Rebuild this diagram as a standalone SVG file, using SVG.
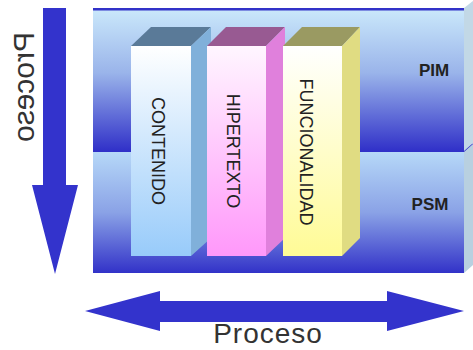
<svg xmlns="http://www.w3.org/2000/svg" width="473" height="350" viewBox="0 0 473 350">
<defs>
<linearGradient id="gPim" x1="0" y1="0" x2="0" y2="1">
<stop offset="0" stop-color="#cbe9fb"/>
<stop offset="0.45" stop-color="#9ab4ea"/>
<stop offset="1" stop-color="#2f2fc8"/>
</linearGradient>
<linearGradient id="gPsm" x1="0" y1="0" x2="0" y2="1">
<stop offset="0" stop-color="#b6d8f8"/>
<stop offset="0.5" stop-color="#8aa2e6"/>
<stop offset="1" stop-color="#3232c8"/>
</linearGradient>
<linearGradient id="gBlue" x1="0" y1="0" x2="0" y2="1">
<stop offset="0" stop-color="#ffffff"/>
<stop offset="1" stop-color="#98cbfa"/>
</linearGradient>
<linearGradient id="gPink" x1="0" y1="0" x2="0" y2="1">
<stop offset="0" stop-color="#fff6ff"/>
<stop offset="1" stop-color="#ff98fa"/>
</linearGradient>
<linearGradient id="gYellow" x1="0" y1="0" x2="0" y2="1">
<stop offset="0" stop-color="#ffffff"/>
<stop offset="1" stop-color="#fffb96"/>
</linearGradient>
</defs>
<style>
.arrow{fill:#3333cc}
.lbl{font-family:"Liberation Sans",Arial,sans-serif;font-size:18px;fill:#222}
.layer{font-family:"Liberation Sans",Arial,sans-serif;font-size:17px;font-weight:bold;fill:#222;text-anchor:middle}
.proc{font-family:"Liberation Sans",Arial,sans-serif;font-size:30px;fill:#333}
</style>

<g id="pim">
<rect x="93" y="8" width="371" height="144" fill="url(#gPim)"/>
<rect x="93" y="8" width="371" height="2.5" fill="#3232c8"/>
<polygon points="464,8 473,1 473,143 464,152" fill="#c2d8e6"/>
<line x1="464" y1="152" x2="473" y2="144" stroke="#3232c8" stroke-width="1.5"/>
<text class="layer" x="434" y="76">PIM</text>
</g>

<g id="psm">
<rect x="93" y="152" width="371" height="121" fill="url(#gPsm)"/>
<polygon points="464,152 473,144 473,265 464,273" fill="#b8d0e0"/>
<text class="layer" x="430" y="210">PSM</text>
</g>

<g id="contenido">
<polygon points="131,46 151,27 211,27 191,46" fill="#5a7a98"/>
<polygon points="191,46 211,27 211,238 191,256" fill="#80b0da"/>
<rect x="131" y="46" width="60" height="210" fill="url(#gBlue)"/>
<text class="lbl" text-anchor="middle" transform="translate(152,151) rotate(90)">CONTENIDO</text>
</g>

<g id="hipertexto">
<polygon points="207,46 226,27 285,27 266,46" fill="#985a92"/>
<polygon points="266,46 285,27 285,238 266,256" fill="#e080dc"/>
<rect x="207" y="46" width="59" height="210" fill="url(#gPink)"/>
<text class="lbl" text-anchor="middle" transform="translate(227,151) rotate(90)">HIPERTEXTO</text>
</g>

<g id="funcionalidad">
<polygon points="283,46 302,27 360,27 342,46" fill="#9a9a62"/>
<polygon points="342,46 360,27 360,238 342,256" fill="#e0dc82"/>
<rect x="283" y="46" width="59" height="210" fill="url(#gYellow)"/>
<text class="lbl" text-anchor="middle" transform="translate(300,152) rotate(90)">FUNCIONALIDAD</text>
</g>

<g id="connectors">
<polygon class="arrow" points="43,8 66,8 66,185 78,185 55,274 32,185 43,185"/>
<polygon class="arrow" points="85,311 160,291 160,301 387,301 387,291 464,311 387,331 387,322 160,322 160,331"/>
</g>

<g id="labels">
<text class="proc" transform="matrix(0,1,1,0,34,32)">Proceso</text>
<text class="proc" x="268" y="343" text-anchor="middle" style="font-size:28px;letter-spacing:1px">Proceso</text>
</g>
</svg>
